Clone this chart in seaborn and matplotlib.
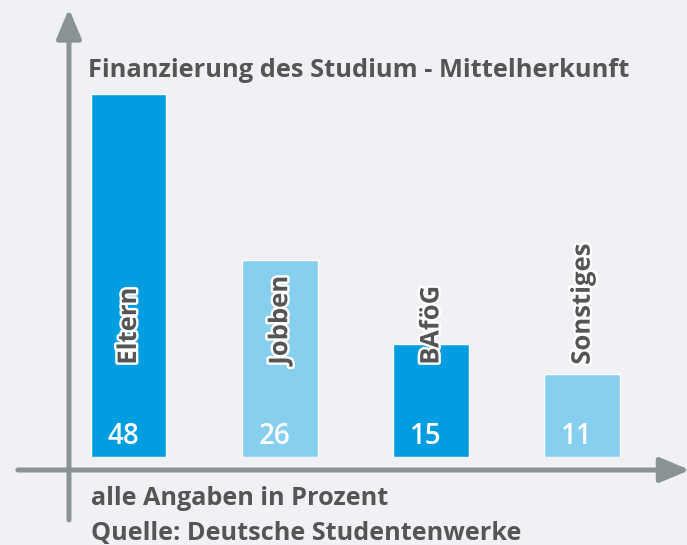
import matplotlib
matplotlib.use("Agg")
import matplotlib.pyplot as plt
import matplotlib.patheffects as pe
from matplotlib.patches import FancyArrowPatch
import seaborn as sns
import pandas as pd

# data
categories = ['Eltern', 'Jobben', 'BAföG', 'Sonstiges']
values = [48, 26, 15, 11]
bar_colors = ['#009ee0', '#87cfef', '#009ee0', '#87cfef']

title = 'Finanzierung des Studium - Mittelherkunft'
note = 'alle Angaben in Prozent'
source = 'Quelle: Deutsche Studentenwerke'

bg = '#f0f0f5'
axis_gray = '#899394'
text_gray = '#555555'

sns.set_theme(style='white')
plt.rcParams['font.family'] = ['Open Sans', 'DejaVu Sans']

df = pd.DataFrame({'cat': categories, 'val': values})

fig = plt.figure(figsize=(6.87, 5.45), dpi=100, facecolor=bg)
ax = fig.add_axes([0.0769, 0.1615, 0.8806, 0.666])
ax.set_facecolor('none')
sns.barplot(data=df, x='cat', y='val', hue='cat', palette=bar_colors,
            width=0.5, legend=False, ax=ax, saturation=1)
ax.set_xlim(-0.5, 3.5)
ax.set_ylim(0, 48)
ax.axis('off')

# labels inside/above bars
for i, (c, v) in enumerate(zip(categories, values)):
    ax.text(i, 12.2, c, rotation=90, ha='center', va='bottom',
            fontsize=18.5, fontweight='bold', color=text_gray,
            path_effects=[pe.withStroke(linewidth=3.5, foreground='white')])
    ax.text(i - 0.035, 2.7, str(v), ha='center', va='center',
            fontsize=20, fontweight='semibold', color='white')

# axes arrows
tr = fig.transFigure
arrow_style = '-|>,head_length=1.0,head_width=0.42'
fig.add_artist(FancyArrowPatch((0.1004, 0.046), (0.1004, 0.984), transform=tr,
                               arrowstyle=arrow_style, mutation_scale=18,
                               lw=3.6, color=axis_gray, capstyle='round',
                               shrinkA=0, shrinkB=0))
fig.add_artist(FancyArrowPatch((0.026, 0.1376), (1.004, 0.1376), transform=tr,
                               arrowstyle=arrow_style, mutation_scale=18,
                               lw=3.6, color=axis_gray, capstyle='round',
                               shrinkA=0, shrinkB=0))

fig.text(0.128, 0.871, title, ha='left', va='center', fontsize=18.3,
         fontweight='bold', color=text_gray)
fig.text(0.132, 0.086, note, ha='left', va='center', fontsize=18.2,
         fontweight='bold', color=text_gray)
fig.text(0.132, 0.022, source, ha='left', va='center', fontsize=18.2,
         fontweight='bold', color=text_gray)

fig.savefig('out.png', dpi=100, facecolor=bg)
